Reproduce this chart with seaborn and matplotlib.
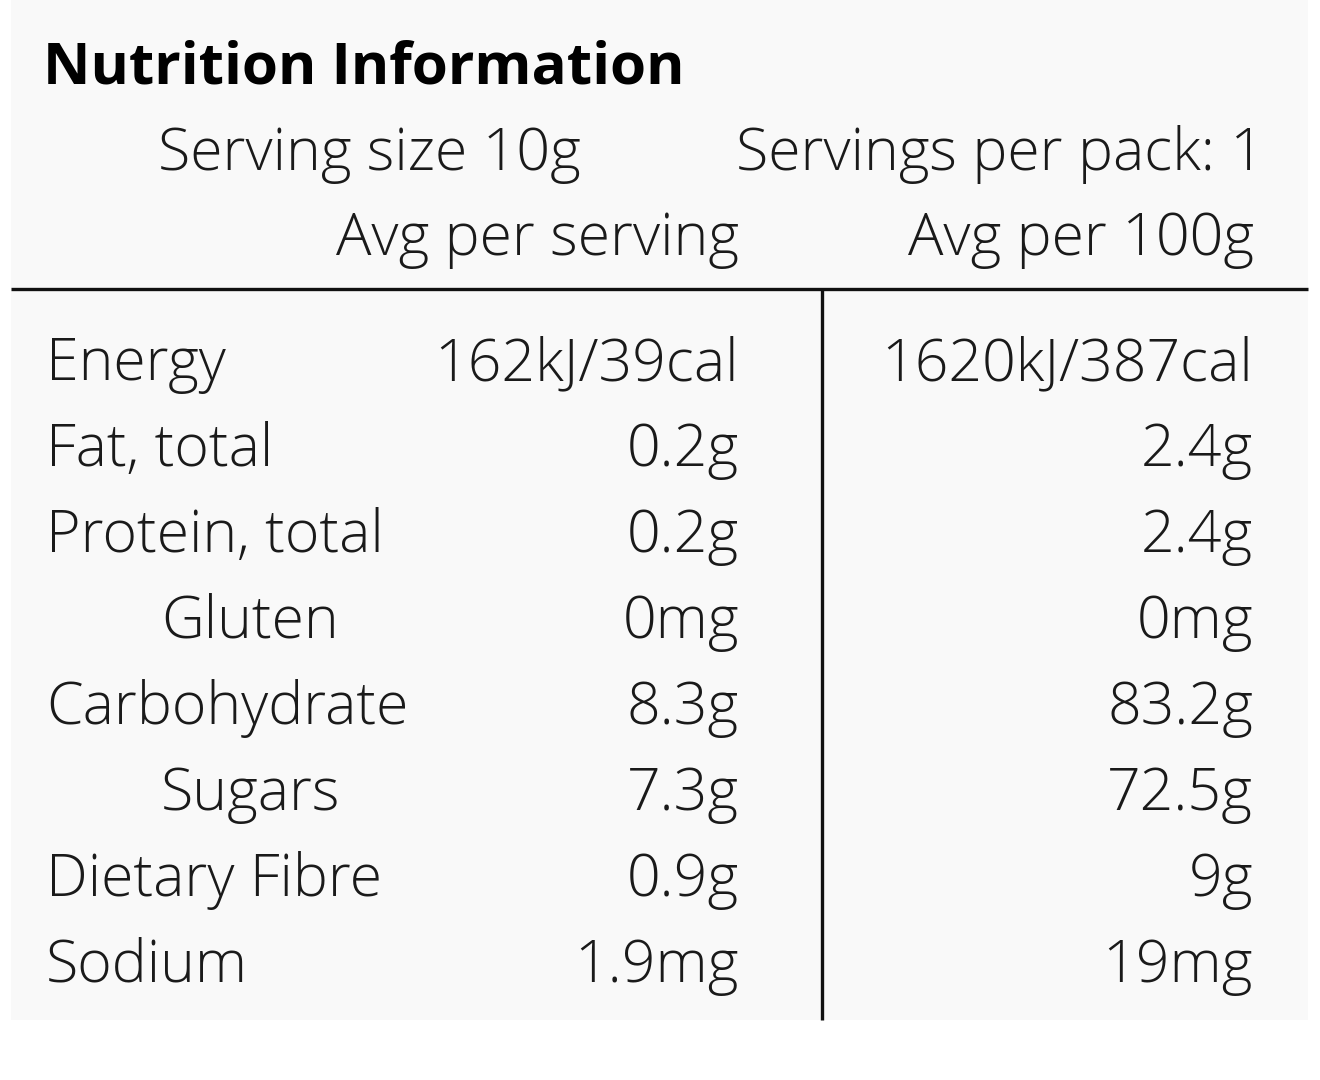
import matplotlib.pyplot as plt
import seaborn as sns
from matplotlib.patches import Rectangle

# table contents
nutrients = ["Energy", "Fat, total", "Protein, total", "Gluten", "Carbohydrate",
             "Sugars", "Dietary Fibre", "Sodium"]
indented = [False, False, False, True, False, True, False, False]
per_serving = ["162kJ/39cal", "0.2g", "0.2g", "0mg", "8.3g", "7.3g", "0.9g", "1.9mg"]
per_100g = ["1620kJ/387cal", "2.4g", "2.4g", "0mg", "83.2g", "72.5g", "9g", "19mg"]

title = "Nutrition Information"
serving_size = "Serving size 10g"
servings_pack = "Servings per pack: 1"
col_headers = ["Avg per serving", "Avg per 100g"]

sns.set_theme(style="white")
plt.rcParams["font.family"] = ["Open Sans", "DejaVu Sans"]

fig = plt.figure(figsize=(13.2, 10.8), dpi=100)
ax = fig.add_axes([0, 0, 1, 1])
ax.set_xlim(0, 1320)
ax.set_ylim(1080, 0)
ax.axis("off")

# label background
ax.add_patch(Rectangle((11, 0), 1297, 1020, facecolor="#f9f9f9", edgecolor="none", zorder=0))

# rules
ax.plot([11, 1308], [289, 289], color="#111111", lw=2.4, solid_capstyle="butt")
ax.plot([822, 822], [289, 1020], color="#111111", lw=2.4, solid_capstyle="butt")

ink = "#1a1a1a"
body_size = 42.5

ax.text(43, 84, title, fontsize=42, fontweight="bold", color="black", va="baseline")
ax.text(158, 170, serving_size, fontsize=body_size, fontweight="light", color=ink, va="baseline")
ax.text(1264, 170, servings_pack, fontsize=body_size, fontweight="light", color=ink,
        va="baseline", ha="right")
ax.text(739, 255, col_headers[0], fontsize=body_size, fontweight="light", color=ink,
        va="baseline", ha="right")
ax.text(1254, 255, col_headers[1], fontsize=body_size, fontweight="light", color=ink,
        va="baseline", ha="right")

for i, (name, ind, a, b) in enumerate(zip(nutrients, indented, per_serving, per_100g)):
    y = 380 + i * 86
    x = 161 if ind else 46
    ax.text(x, y, name, fontsize=body_size, fontweight="light", color=ink, va="baseline")
    ax.text(739, y, a, fontsize=body_size, fontweight="light", color=ink, va="baseline", ha="right")
    ax.text(1253, y, b, fontsize=body_size, fontweight="light", color=ink, va="baseline", ha="right")

fig.savefig("out.png", dpi=100, facecolor="white")
